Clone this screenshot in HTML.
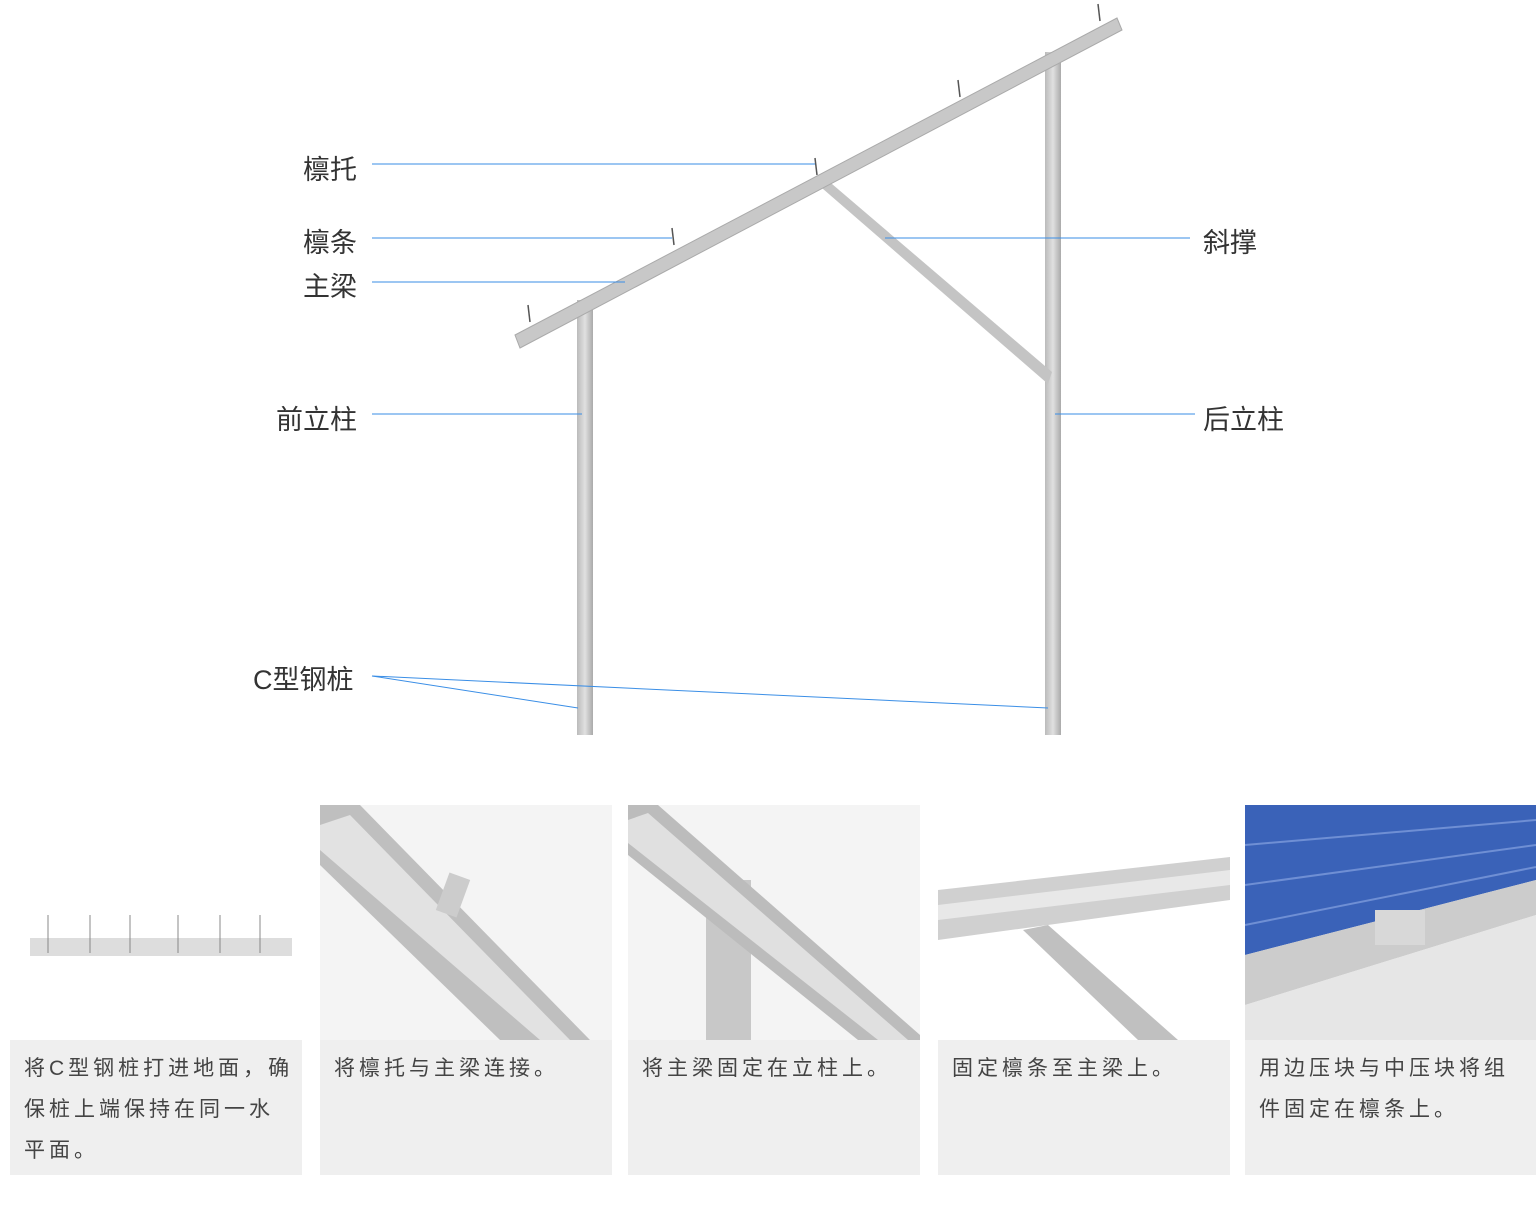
<!DOCTYPE html>
<html><head><meta charset="utf-8"><style>
body{margin:0;width:1536px;height:1208px;background:#fff;position:relative;overflow:hidden;font-family:"Liberation Sans","Noto Sans CJK SC",sans-serif}
.lb{position:absolute;font-size:27px;color:#333;white-space:nowrap}
.panel{position:absolute;top:805px;width:292px;height:370px}
.img{position:absolute;left:0;top:0;width:100%;height:235px;overflow:hidden;background:#f4f4f4}
.txt{position:absolute;left:0;top:235px;width:100%;height:135px;background:#efefef;box-sizing:border-box;padding:8px 0 0 14px;font-size:21px;line-height:41px;color:#444;letter-spacing:4px;white-space:nowrap;overflow:hidden}
</style></head><body>
<svg width="1536" height="760" style="position:absolute;left:0;top:0">
<defs><linearGradient id="g" x1="0" x2="1"><stop offset="0" stop-color="#bbb"/><stop offset=".5" stop-color="#e0e0e0"/><stop offset="1" stop-color="#aaa"/></linearGradient></defs>
<rect x="577" y="300" width="16" height="435" fill="url(#g)"/>
<rect x="1045" y="52" width="16" height="683" fill="url(#g)"/>
<polygon points="815,182 825,178 1052,372 1048,384" fill="#c4c4c4"/>
<polygon points="515,335 1117,18 1122,30 520,348" fill="#c8c8c8" stroke="#aaa" stroke-width="1"/>
<g stroke="#555" stroke-width="1.5">
<line x1="528" y1="305" x2="530" y2="322"/><line x1="672" y1="228" x2="674" y2="245"/><line x1="815" y1="158" x2="817" y2="175"/><line x1="958" y1="80" x2="960" y2="97"/><line x1="1098" y1="4" x2="1100" y2="21"/></g>
<g stroke="#3a8ee6" stroke-width="1" fill="none">
<line x1="372" y1="164" x2="815" y2="164"/>
<line x1="372" y1="238" x2="672" y2="238"/>
<line x1="372" y1="282" x2="625" y2="282"/>
<line x1="372" y1="414" x2="582" y2="414"/>
<line x1="885" y1="238" x2="1190" y2="238"/>
<line x1="1055" y1="414" x2="1195" y2="414"/>
<line x1="372" y1="676" x2="578" y2="708"/>
<line x1="372" y1="676" x2="1048" y2="708"/>
</g></svg>
<div class="lb" style="left:303px;top:148px">檩托</div>
<div class="lb" style="left:303px;top:221px">檩条</div>
<div class="lb" style="left:303px;top:265px">主梁</div>
<div class="lb" style="left:276px;top:398px">前立柱</div>
<div class="lb" style="left:253px;top:658px">C型钢桩</div>
<div class="lb" style="left:1203px;top:221px">斜撑</div>
<div class="lb" style="left:1203px;top:398px">后立柱</div>

<div class="panel" style="left:10px"><div class="img" style="background:#fff"><svg width="292" height="235"><rect x="20" y="133" width="262" height="18" fill="#ddd"/><g stroke="#888"><line x1="38" y1="110" x2="38" y2="148"/><line x1="80" y1="110" x2="80" y2="148"/><line x1="120" y1="110" x2="120" y2="148"/><line x1="168" y1="110" x2="168" y2="148"/><line x1="210" y1="110" x2="210" y2="148"/><line x1="250" y1="110" x2="250" y2="148"/></g></svg></div><div class="txt">将C型钢桩打进地面，确<br>保桩上端保持在同一水<br>平面。</div></div>
<div class="panel" style="left:320px"><div class="img"><svg width="292" height="235"><polygon points="0,0 40,0 270,235 180,235 0,60" fill="#bfbfbf"/><polygon points="0,20 30,10 250,235 220,235 0,45" fill="#e2e2e2"/><rect x="122" y="70" width="22" height="40" fill="#ccc" transform="rotate(20 133 90)"/></svg></div><div class="txt">将檩托与主梁连接。</div></div>
<div class="panel" style="left:628px"><div class="img"><svg width="292" height="235"><rect x="78" y="75" width="45" height="160" fill="#c8c8c8"/><polygon points="0,0 30,0 292,230 292,235 230,235 0,50" fill="#bcbcbc"/><polygon points="0,15 20,8 280,235 250,235 0,38" fill="#e0e0e0"/></svg></div><div class="txt">将主梁固定在立柱上。</div></div>
<div class="panel" style="left:938px"><div class="img" style="background:#fff"><svg width="292" height="235"><polygon points="0,85 292,52 292,95 0,135" fill="#d0d0d0"/><polygon points="0,100 292,65 292,80 0,115" fill="#e8e8e8"/><polygon points="85,125 110,120 240,235 200,235" fill="#c0c0c0"/></svg></div><div class="txt">固定檩条至主梁上。</div></div>
<div class="panel" style="left:1245px;width:291px"><div class="img"><svg width="291" height="235"><polygon points="0,0 291,0 291,75 0,150" fill="#3a62b8"/><g stroke="#6f8fd4" stroke-width="2"><line x1="0" y1="40" x2="291" y2="15"/><line x1="0" y1="80" x2="291" y2="40"/><line x1="0" y1="120" x2="291" y2="62"/></g><polygon points="0,150 291,75 291,110 0,200" fill="#ccc"/><polygon points="0,200 291,110 291,235 0,235" fill="#e6e6e6"/><rect x="130" y="105" width="50" height="35" fill="#d8d8d8"/></svg></div><div class="txt">用边压块与中压块将组<br>件固定在檩条上。</div></div>
</body></html>
